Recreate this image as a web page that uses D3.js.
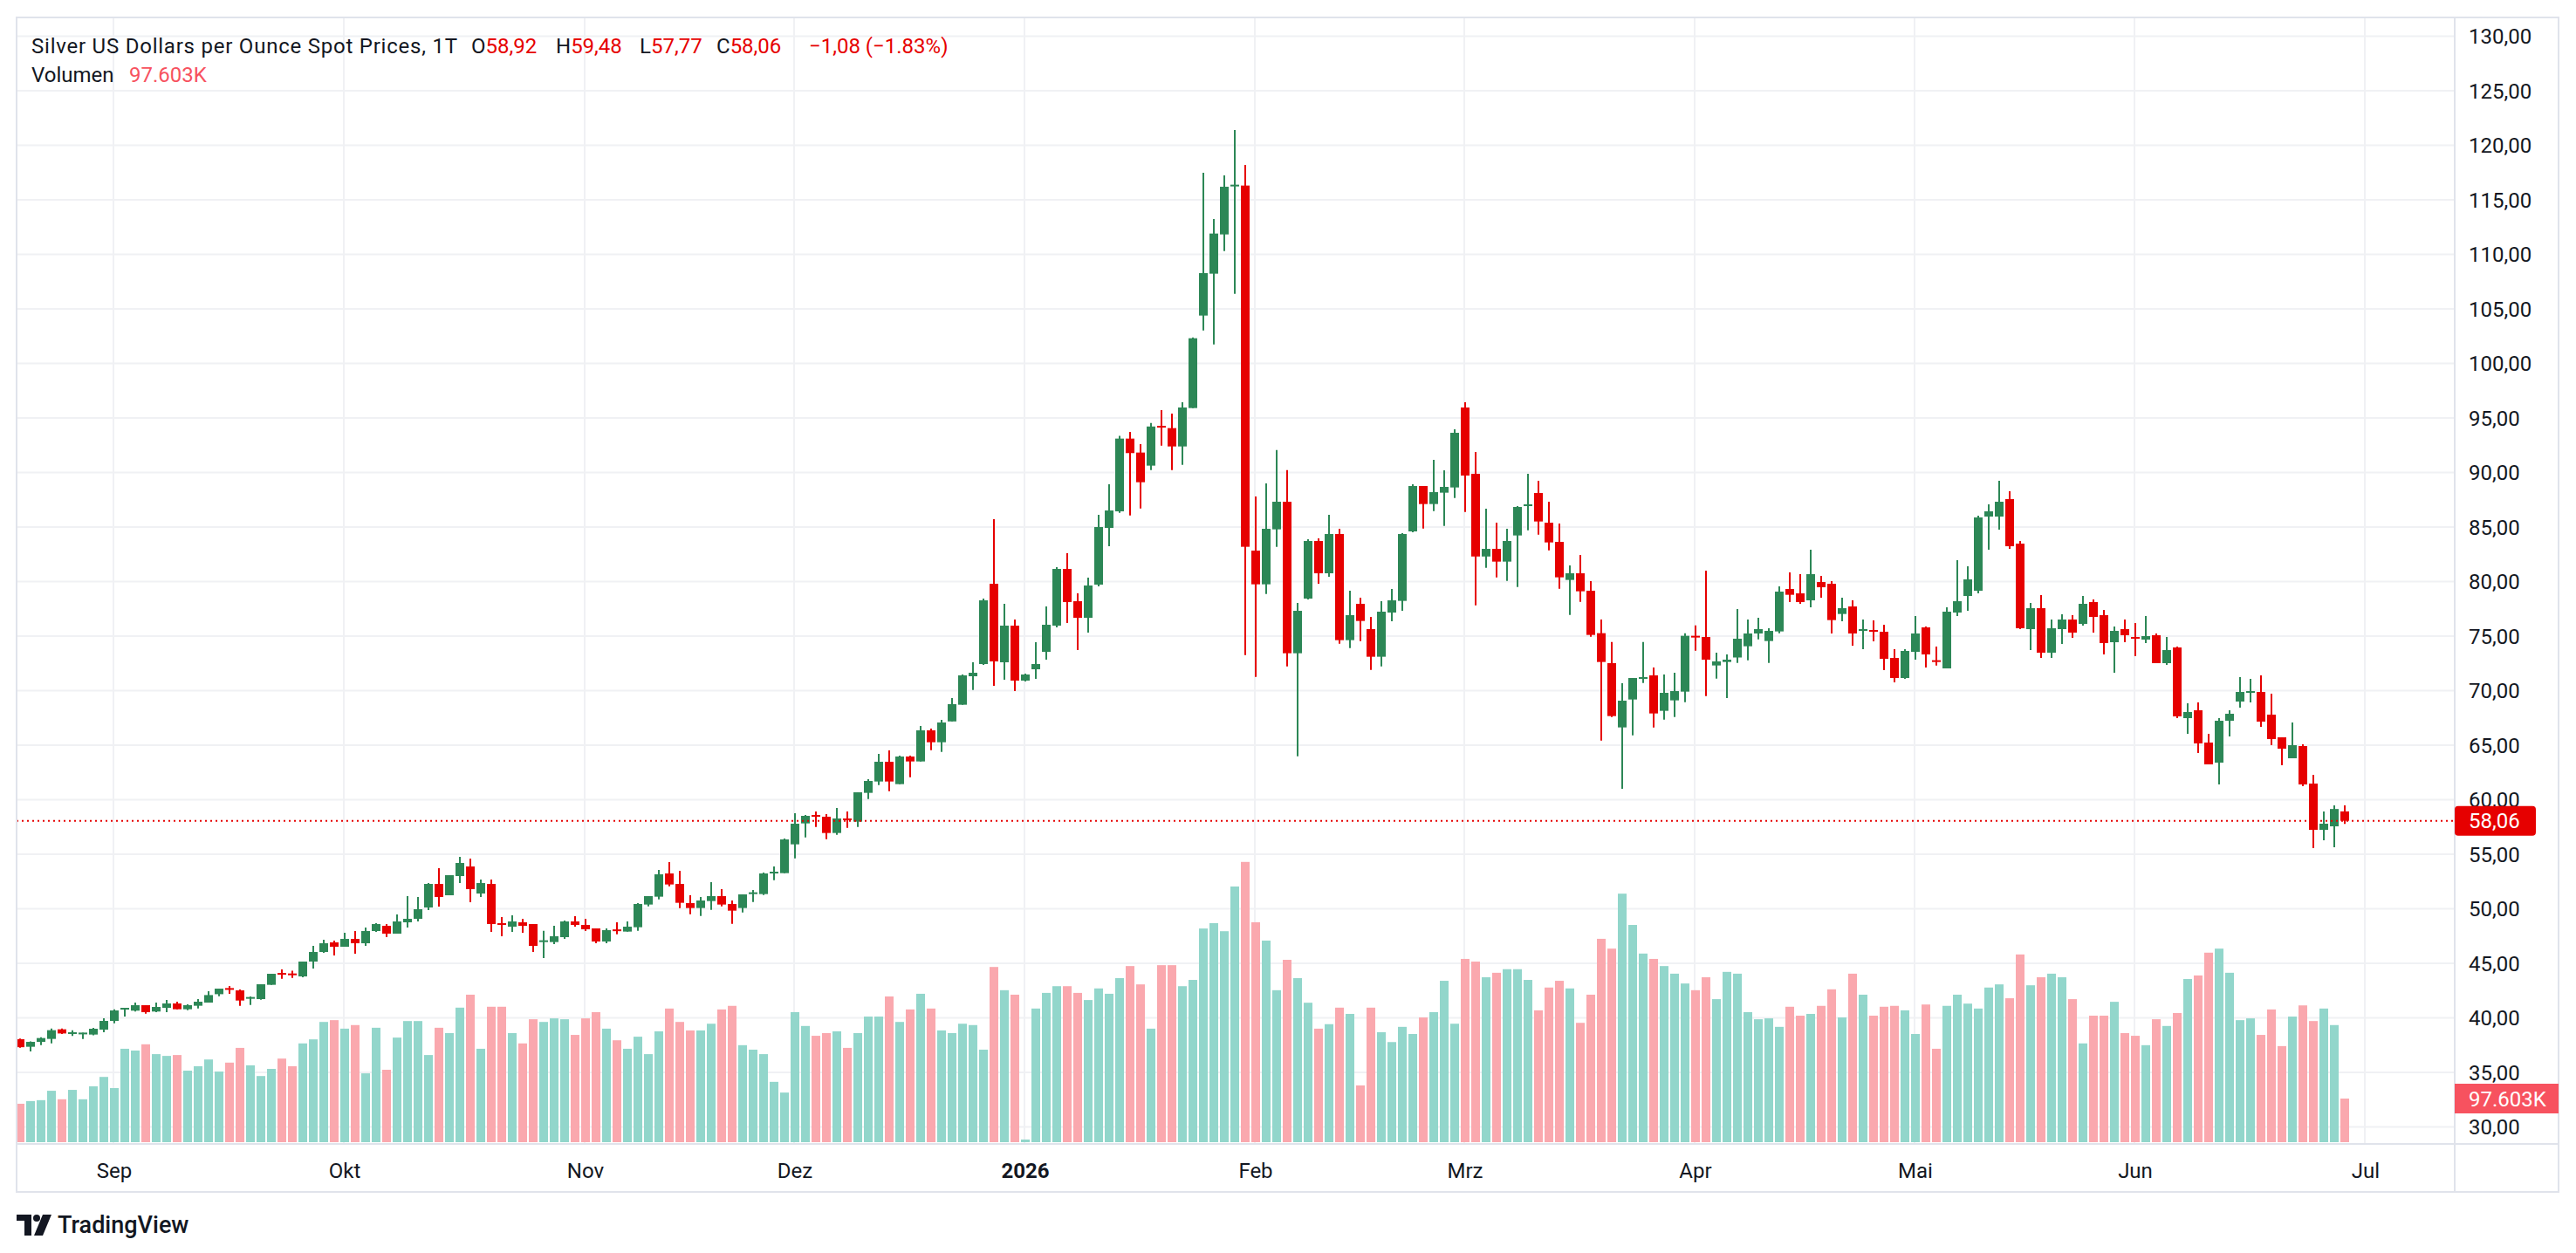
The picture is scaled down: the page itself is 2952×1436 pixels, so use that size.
<!DOCTYPE html>
<html>
<head>
<meta charset="utf-8">
<script src="https://cdn.jsdelivr.net/npm/d3@7"></script>
<style>
  body { margin: 0; background: #fff; }
  svg { display: block; font-family: Roboto, "Noto Sans", sans-serif; }
</style>
</head>
<body>
<svg id="chart" width="2952" height="1436"></svg>
<script>
// month labels and the bar index where each month starts
const monthLabels = ["Sep", "Okt", "Nov", "Dez", "2026", "Feb", "Mrz", "Apr", "Mai", "Jun", "Jul"];
const monthIndex = [9, 31, 54, 74, 96, 118, 138, 160, 181, 202, 224];

const priceTicks = d3.range(30, 131, 5);

// daily OHLC, silver spot (USD/oz)
const openP = [38.03,37.34,37.79,38.06,38.94,38.54,38.54,38.46,38.91,39.71,40.78,40.65,41.15,40.57,40.91,41.31,40.78,41.10,41.39,42.16,
  42.72,42.51,41.79,41.71,43.02,44.11,44.06,43.79,45.15,46.03,46.91,46.51,47.23,46.83,47.95,48.43,47.71,48.75,49.07,50.11,
  52.27,51.23,52.99,53.87,51.39,52.27,48.67,48.35,48.75,48.59,46.94,46.94,47.39,48.83,48.51,48.19,46.99,48.10,47.90,48.30,
  50.38,51.10,53.23,52.27,50.51,50.06,50.70,51.15,50.43,50.06,51.34,51.34,53.26,53.26,55.90,57.82,58.59,58.43,56.94,58.27,
  57.98,60.62,61.66,63.47,61.42,63.95,63.50,66.35,65.26,67.17,68.70,71.31,72.43,79.79,72.59,75.95,70.91,71.95,73.55,75.95,
  81.15,78.19,76.67,79.71,84.91,86.43,93.10,91.82,90.62,94.27,94.06,92.38,95.90,104.38,108.22,111.82,116.25,116.30,82.83,79.74,
  84.78,87.31,73.42,78.43,83.71,80.75,84.35,74.62,77.95,75.63,73.10,77.15,78.22,84.59,88.75,87.10,88.14,88.62,95.95,89.87,
  82.29,82.99,81.82,84.22,86.94,88.11,85.39,83.63,80.14,80.75,79.15,75.26,72.51,66.62,69.18,71.10,71.39,68.14,69.10,69.90,
  75.02,74.91,72.30,72.62,73.03,74.06,75.23,74.54,75.42,79.31,78.91,78.27,79.95,79.79,77.02,77.71,75.50,75.55,75.39,72.99,
  71.15,73.55,75.79,72.78,72.03,77.15,78.67,79.15,85.95,85.95,87.55,83.47,75.63,77.55,73.47,75.63,76.51,76.11,78.11,76.91,
  74.43,75.63,74.91,74.67,75.07,72.51,73.95,67.47,68.19,65.23,63.39,67.23,68.99,69.83,69.87,67.79,65.71,63.79,64.91,61.47,
  57.23,57.55,58.92];
const highP = [38.10,37.84,38.22,39.02,39.02,38.86,38.64,39.07,39.95,40.78,40.91,41.39,41.15,41.39,41.63,41.47,41.23,41.71,42.43,42.67,
  42.91,42.59,41.95,43.07,44.03,44.43,44.32,45.15,46.59,47.15,47.07,47.79,47.95,48.27,48.67,48.59,49.47,51.15,51.07,52.35,
  53.71,53.07,54.75,54.59,52.67,52.67,49.23,49.39,49.07,48.59,47.98,48.43,48.91,49.31,49.07,48.19,48.19,48.75,48.83,50.51,
  51.15,53.55,54.27,53.47,51.23,51.07,52.43,51.79,50.75,51.31,51.71,53.31,53.87,56.43,58.75,58.59,58.91,58.67,59.23,58.91,
  60.67,61.87,64.19,64.51,64.03,64.03,66.75,66.51,67.31,69.31,71.47,72.59,78.43,85.71,77.95,76.51,71.55,74.43,77.71,81.31,
  82.59,78.91,80.35,86.11,88.91,93.36,93.71,92.59,94.54,95.71,95.39,96.43,102.38,117.47,113.23,117.23,121.39,118.20,87.79,88.99,
  92.06,90.22,78.03,83.87,83.95,86.11,84.83,79.15,78.51,76.75,78.19,79.31,84.43,88.91,88.75,91.15,90.19,93.95,96.43,91.87,
  86.67,85.39,84.83,86.91,89.87,89.23,87.31,85.31,81.47,82.43,80.03,76.51,74.46,70.67,71.15,74.46,72.11,71.47,71.63,75.26,
  75.98,80.99,73.47,73.31,77.47,76.51,76.67,75.71,79.55,80.83,80.67,82.91,80.51,80.03,78.51,78.27,76.51,76.43,76.03,73.79,
  73.79,76.83,75.87,74.03,77.63,81.95,81.39,86.03,87.07,89.23,88.27,83.71,78.03,78.75,76.51,76.99,76.91,78.67,78.35,77.39,
  75.87,76.51,76.19,76.83,75.23,74.91,74.03,68.83,68.91,66.03,67.47,68.19,71.23,71.07,71.39,69.71,65.71,67.07,65.07,62.27,
  58.91,59.47,59.48];
const lowP = [37.25,36.91,37.50,37.66,38.51,38.33,38.06,38.40,38.67,39.50,40.11,40.57,40.38,40.51,40.51,40.78,40.70,40.86,41.39,41.98,
  42.19,41.10,41.18,41.66,43.02,43.58,43.66,43.71,44.51,45.95,45.71,46.51,45.87,46.59,47.87,47.39,47.71,48.27,48.83,49.87,
  50.19,51.23,52.35,50.59,51.07,47.87,47.47,47.87,47.79,46.03,45.47,46.75,47.23,48.35,47.95,46.83,46.83,47.66,47.90,47.98,
  50.22,50.86,52.06,50.06,49.50,49.34,49.90,50.22,48.62,49.66,50.62,51.26,52.62,53.26,54.62,56.54,57.50,56.38,56.78,57.42,
  57.50,60.06,61.34,60.78,61.42,62.06,63.50,64.54,64.38,67.17,68.70,70.06,72.35,70.43,70.99,69.95,70.83,71.07,72.83,75.79,
  76.19,73.71,75.31,79.55,83.23,86.30,86.06,86.70,90.22,92.46,90.22,90.70,95.90,103.02,101.74,110.30,106.38,73.26,71.26,78.86,
  83.18,72.22,63.98,78.35,79.79,80.43,74.30,73.90,74.54,71.90,72.22,76.35,77.31,84.51,84.86,86.46,85.10,87.66,86.38,77.82,
  81.26,80.38,80.06,79.50,84.70,84.30,82.86,79.34,76.94,78.14,74.94,65.42,67.58,61.00,65.90,70.70,66.62,67.34,67.58,68.94,
  73.66,69.50,71.10,69.31,72.54,72.78,74.70,72.54,75.26,78.11,77.95,77.63,78.51,75.23,76.35,74.11,73.79,74.51,71.87,70.75,
  71.07,72.83,72.11,72.30,72.03,76.83,77.31,78.91,82.91,84.75,82.99,75.63,73.71,72.99,72.99,74.27,74.83,75.95,75.31,73.31,
  71.63,74.43,73.15,74.35,72.51,72.35,67.47,66.03,64.27,63.23,61.39,65.79,68.43,68.91,66.67,64.99,63.15,63.79,61.23,55.55,
  56.27,55.63,57.77];
const closeP = [37.30,37.79,38.14,38.86,38.56,38.67,38.64,38.99,39.71,40.67,40.91,41.15,40.51,40.99,41.31,40.78,41.15,41.47,42.08,42.67,
  42.62,41.58,41.90,43.07,44.03,43.98,43.95,45.15,46.03,46.83,46.51,47.23,46.83,47.95,48.59,47.71,48.83,49.07,49.95,52.27,
  51.07,53.07,54.19,51.79,52.35,48.59,48.51,48.83,48.43,46.59,47.10,47.47,48.83,48.51,48.11,46.99,48.03,47.95,48.35,50.43,
  51.15,53.15,52.22,50.54,50.06,50.75,51.15,50.38,49.82,51.31,51.50,53.23,53.39,56.35,57.79,58.51,58.46,56.94,58.27,58.14,
  60.67,61.71,63.47,61.66,63.95,63.50,66.35,65.26,67.07,68.75,71.39,71.63,78.27,72.67,75.95,70.91,71.47,72.43,76.03,81.15,
  78.11,76.67,79.63,84.99,86.51,93.10,91.77,89.10,94.21,94.16,92.38,95.95,102.30,108.27,111.90,116.19,116.38,83.18,79.74,84.83,
  87.31,73.42,77.31,83.71,80.75,84.35,74.62,76.91,76.38,73.10,77.23,78.27,84.35,88.75,87.10,88.19,88.67,93.63,89.71,82.29,
  82.99,81.82,83.71,86.83,87.07,85.50,83.58,80.38,80.75,79.10,75.10,72.62,67.66,69.07,71.15,71.23,67.90,69.79,69.95,75.02,
  74.86,72.83,72.67,72.83,74.75,75.23,75.63,75.47,79.07,78.78,78.11,80.67,79.47,76.46,77.55,75.23,75.63,75.44,72.91,71.15,
  73.63,75.23,73.31,72.62,77.23,78.19,80.19,85.87,86.43,87.31,83.23,75.71,77.55,73.47,75.71,76.51,75.31,77.95,76.75,74.35,
  75.47,75.07,74.80,74.99,72.51,73.71,67.63,68.03,65.15,63.23,67.23,67.87,69.87,69.95,67.15,65.55,64.67,64.99,61.39,57.23,
  57.79,59.14,58.06];
// volume in thousands
const volumeK = [86,92,94,115,96,117,96,125,146,121,209,205,219,197,193,195,160,170,185,158,
  178,211,172,148,164,187,170,221,230,269,273,254,262,154,256,162,234,271,271,195,
  256,244,301,330,209,303,303,244,221,275,269,277,275,240,277,291,254,228,209,236,
  197,248,299,269,250,250,265,297,305,217,207,197,135,111,291,260,238,244,248,211,
  244,281,281,326,269,297,332,299,250,244,265,262,207,392,340,330,6,299,334,349,
  349,334,318,344,332,367,394,353,254,396,396,349,363,478,490,472,572,627,492,451,
  340,408,367,312,254,264,301,287,127,301,246,224,258,242,279,291,361,265,410,404,
  369,379,387,387,363,295,346,361,344,267,330,455,433,556,486,422,410,394,377,355,
  340,369,320,381,377,291,275,277,258,303,283,287,305,342,279,377,330,283,303,305,
  295,242,308,209,305,330,310,299,346,353,322,420,351,369,377,369,320,221,283,283,
  314,244,238,217,275,260,289,365,373,424,433,379,273,277,240,297,215,281,306,271,
  299,262,97.603];

const UP = "#2c8756", DOWN = "#e60000";
const VOL_UP = "#92d6cb", VOL_DOWN = "#faa8ae";
const GRID = "#f0f1f4", BORDER = "#e0e3eb", TEXT = "#131722";

const svg = d3.select("#chart");
const pane = { left: 19, right: 2813, top: 20, bottom: 1311 };
const frame = { right: 2932, bottom: 1366 };

const n = closeP.length;
const x = d3.scaleLinear().domain([0, n - 1]).range([23, 23 + 12 * (n - 1)]);
const y = d3.scaleLinear().domain([30, 130]).range([1291.4, 41.4]);
const vy = d3.scaleLinear().domain([0, 97.603]).range([1309, 1259]);

const bars = d3.range(n).map(i => ({
  i, o: openP[i], h: highP[i], l: lowP[i], c: closeP[i], v: volumeK[i],
  up: closeP[i] >= openP[i]
}));

// grid
const grid = svg.append("g");
grid.selectAll(".hg").data(priceTicks).join("line")
  .attr("x1", pane.left).attr("x2", pane.right)
  .attr("y1", d => y(d)).attr("y2", d => y(d))
  .attr("stroke", GRID).attr("stroke-width", 2);
grid.selectAll(".vg").data(monthIndex).join("line")
  .attr("x1", d => x(d) - 1).attr("x2", d => x(d) - 1)
  .attr("y1", pane.top).attr("y2", pane.bottom)
  .attr("stroke", GRID).attr("stroke-width", 2);

// volume
svg.append("g").selectAll("rect").data(bars).join("rect")
  .attr("x", d => x(d.i) - 5)
  .attr("width", 10)
  .attr("y", d => vy(d.v))
  .attr("height", d => vy(0) - vy(d.v))
  .attr("fill", d => d.up ? VOL_UP : VOL_DOWN);

// candles
const cg = svg.append("g");
cg.selectAll("line").data(bars).join("line")
  .attr("x1", d => x(d.i)).attr("x2", d => x(d.i))
  .attr("y1", d => y(d.h)).attr("y2", d => y(d.l))
  .attr("stroke", d => d.up ? UP : DOWN)
  .attr("stroke-width", 2);
cg.selectAll("rect").data(bars).join("rect")
  .attr("x", d => x(d.i) - 5)
  .attr("width", 10)
  .attr("y", d => y(Math.max(d.o, d.c)))
  .attr("height", d => Math.max(2, Math.abs(y(d.o) - y(d.c))))
  .attr("fill", d => d.up ? UP : DOWN);

// last price line
const last = bars[n - 1];
svg.append("line")
  .attr("x1", pane.left).attr("x2", pane.right)
  .attr("y1", y(last.c)).attr("y2", y(last.c))
  .attr("stroke", DOWN).attr("stroke-width", 2)
  .attr("stroke-dasharray", "2 4");

// frame
svg.append("rect")
  .attr("x", pane.left).attr("y", pane.top)
  .attr("width", frame.right - pane.left).attr("height", frame.bottom - pane.top)
  .attr("fill", "none").attr("stroke", BORDER).attr("stroke-width", 2);
svg.append("line").attr("x1", pane.right).attr("x2", pane.right)
  .attr("y1", pane.top).attr("y2", frame.bottom)
  .attr("stroke", BORDER).attr("stroke-width", 2);
svg.append("line").attr("x1", pane.left).attr("x2", frame.right)
  .attr("y1", pane.bottom).attr("y2", pane.bottom)
  .attr("stroke", BORDER).attr("stroke-width", 2);

// price axis labels
const fmt = v => d3.format(".2f")(v).replace(".", ",");
svg.append("g").selectAll("text").data(priceTicks).join("text")
  .attr("x", 2829).attr("y", d => y(d))
  .attr("dy", "0.36em")
  .attr("font-size", 24).attr("fill", TEXT)
  .text(fmt);

// time axis labels
svg.append("g").selectAll("text").data(monthLabels).join("text")
  .attr("x", (d, k) => x(monthIndex[k]))
  .attr("y", 1341).attr("dy", "0.36em")
  .attr("text-anchor", "middle")
  .attr("font-size", 24)
  .attr("font-weight", d => d === "2026" ? 700 : 400)
  .attr("fill", TEXT)
  .text(d => d);

// last price tag
const tag = svg.append("g");
tag.append("rect")
  .attr("x", pane.right).attr("y", y(last.c) - 17)
  .attr("width", 93).attr("height", 34).attr("rx", 4)
  .attr("fill", DOWN);
tag.append("text")
  .attr("x", 2829).attr("y", y(last.c)).attr("dy", "0.36em")
  .attr("font-size", 24).attr("fill", "#fff")
  .text(fmt(last.c));

// volume tag
tag.append("rect")
  .attr("x", pane.right).attr("y", vy(last.v) - 17)
  .attr("width", frame.right - pane.right).attr("height", 34)
  .attr("fill", "#f7525f");
tag.append("text")
  .attr("x", 2829).attr("y", vy(last.v)).attr("dy", "0.36em")
  .attr("font-size", 24).attr("fill", "#fff")
  .text("97.603K");

// legend
const legend = svg.append("g").attr("font-size", 24).attr("fill", TEXT);
legend.append("text").attr("x", 36).attr("y", 61)
  .attr("textLength", 488).attr("lengthAdjust", "spacing")
  .text("Silver US Dollars per Ounce Spot Prices, 1T");
const prev = closeP[n - 2];
const ohlc = [["O", last.o, 540], ["H", last.h, 637], ["L", last.l, 733], ["C", last.c, 821]];
ohlc.forEach(([k, v, px]) => {
  const t = legend.append("text").attr("x", px).attr("y", 61);
  t.append("tspan").text(k);
  t.append("tspan").attr("fill", DOWN).text(fmt(v));
});
const chg = last.c - prev;
legend.append("text").attr("x", 927).attr("y", 61).attr("fill", DOWN)
  .text(fmt(chg) + " (\u2212" + Math.abs(chg / prev * 100).toFixed(2) + "%)");
legend.append("text").attr("x", 36).attr("y", 94).text("Volumen");
legend.append("text").attr("x", 148).attr("y", 94).attr("fill", "#f7525f").text("97.603K");

// TradingView logo
const logo = svg.append("g").attr("fill", TEXT);
logo.append("path").attr("d", "M19,1392 H36 V1416 H28 V1399 H19 Z");
logo.append("circle").attr("cx", 42).attr("cy", 1396).attr("r", 4);
logo.append("path").attr("d", "M49,1392 H59 L49,1416 H39 Z");
logo.append("text").attr("x", 66).attr("y", 1413)
  .attr("font-size", 27).attr("font-weight", 500)
  .text("TradingView");
</script>
</body>
</html>
